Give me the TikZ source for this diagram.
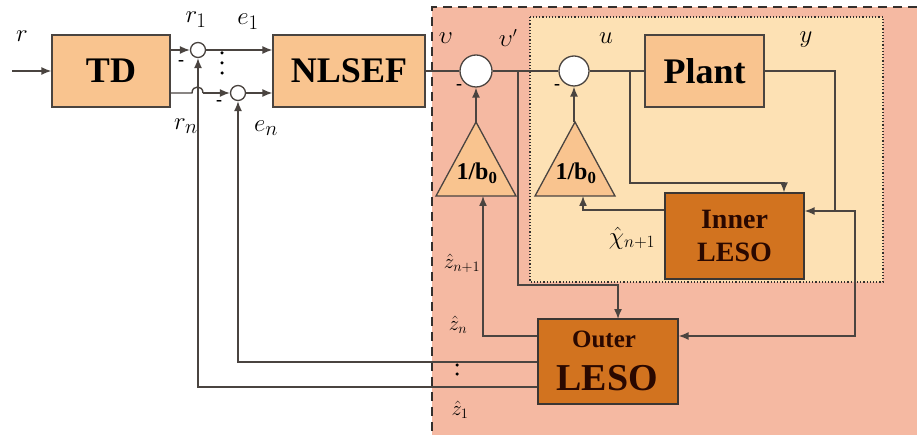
\documentclass[tikz,border=0pt]{standalone}
\usepackage{fontspec}
\setmainfont{Liberation Serif}
\usetikzlibrary{arrows.meta}
\definecolor{outerbg}{HTML}{F5B9A2}
\definecolor{innerbg}{HTML}{FDE1B4}
\definecolor{blk}{HTML}{F9C48F}
\definecolor{leso}{HTML}{D2731F}
\definecolor{ln}{HTML}{4A4440}
\definecolor{lesotxt}{HTML}{2A0800}
\begin{document}
\begin{tikzpicture}[x=1pt,y=-1pt,
  wire/.style={draw=ln,line width=1.4pt},
  arr/.style={wire,-{Latex[length=10pt,width=8pt]}},
  box/.style={draw=ln,line width=1.3pt,fill=blk,inner sep=0pt,font=\fontsize{36}{38}\selectfont\bfseries},
  lesobox/.style={draw=ln!80!black,line width=1.3pt,fill=leso,inner sep=0pt},
  lesotext/.style={inner sep=0pt,text=lesotxt,font=\bfseries},
  sumc/.style={circle,draw=ln,line width=1.3pt,fill=white,inner sep=0pt},
  tri/.style={draw=ln,line width=1.3pt,fill=blk},
  lbl/.style={inner sep=0pt,font=\fontsize{28}{30}\selectfont},
  slbl/.style={inner sep=0pt,font=\fontsize{22}{24}\selectfont},
  minus/.style={inner sep=0pt,font=\fontsize{18}{20}\selectfont\bfseries},
  gain/.style={inner sep=0pt,font=\fontsize{24}{26}\selectfont\bfseries},
  dotc/.style={circle,fill=black,inner sep=0pt,minimum size=3.5pt}
]
\useasboundingbox (0,0) rectangle (917,435);
% regions
\fill[outerbg] (432,7) rectangle (917,435);
\draw[ln!70!black,line width=1.5pt,dash pattern=on 9pt off 6pt] (917,7) -- (432,7) -- (432,435);
\fill[innerbg] (530,17) rectangle (883,282);
\draw[ln!70!black,line width=1.2pt,dotted] (530,17) rectangle (883,282);

% blocks
\node[box,minimum width=118pt,minimum height=72pt] (td) at (111,71) {TD};
\node[box,minimum width=152pt,minimum height=72pt] (nlsef) at (349,71) {NLSEF};
\node[box,minimum width=119pt,minimum height=72pt] (plant) at (704.5,71) {Plant};
\node[lesobox,minimum width=139pt,minimum height=86pt] (inner) at (734.5,236) {};
\node[lesotext,font=\fontsize{28}{30}\selectfont\bfseries] (innerA) at (734.5,219) {Inner};
\node[lesotext,font=\fontsize{28}{30}\selectfont\bfseries] (innerB) at (734.5,252) {LESO};
\node[lesobox,minimum width=140pt,minimum height=85pt] (outer) at (608,361.5) {};
\node[lesotext,font=\fontsize{25}{27}\selectfont\bfseries] (outerA) at (604,339) {Outer};
\node[lesotext,font=\fontsize{38}{40}\selectfont\bfseries] (outerB) at (607,378) {LESO};

% summing junctions
\node[sumc,minimum size=15pt] (s1) at (198,50) {};
\node[sumc,minimum size=15pt] (s2) at (238,93) {};
\node[sumc,minimum size=32pt] (s3) at (476,71) {};
\node[sumc,minimum size=30pt] (s4) at (574,71) {};

% gain triangles
\draw[tri] (436,196) -- (476,122) -- (516,196) -- cycle;
\draw[tri] (535,196) -- (575,122) -- (615,196) -- cycle;
\coordinate (t1a) at (476,122);
\coordinate (t2a) at (574,122);
\coordinate (t1b) at (483,196);
\coordinate (t2b) at (583,196);
\node[gain] (g1) at (477,173) {1/b$_{\mathbf 0}$};
\node[gain] (g2) at (576,173) {1/b$_{\mathbf 0}$};

% coordinates
\coordinate (rin) at (12,71);
\coordinate (hump1) at (192,93);
\coordinate (hump2) at (203,93);
\coordinate (vb) at (518,71);
\coordinate (vb2) at (518,285);
\coordinate (oin) at (618,285);
\coordinate (otop) at (618,319);
\coordinate (ub) at (630,71);
\coordinate (uc) at (784,183);
\coordinate (yc) at (835,71);
\coordinate (yj) at (835,211);
\coordinate (yr) at (855,211);
\coordinate (yr2) at (855,336);
\coordinate (ix) at (583,210);
\coordinate (o1) at (483,336);
\coordinate (o2) at (238,362);
\coordinate (o3) at (198,387);

% wires
\draw[arr] (rin) -- (td.west);
\draw[arr] (td.east |- s1) -- (s1.west);
\draw[wire] (td.east |- s2) -- (hump1) .. controls (192,85) and (203,85) .. (hump2);
\draw[arr] (hump2) -- (s2.west);
\draw[arr] (s1.east) -- (nlsef.west |- s1);
\draw[arr] (s2.east) -- (nlsef.west |- s2);
\draw[wire] (nlsef.east) -- (s3.west);
\draw[wire] (s3.east) -- (s4.west);
\draw[wire] (s4.east) -- (plant.west);
\draw[arr] (vb) -- (vb2) -- (oin) -- (otop);
\draw[arr] (ub) |- (uc) -- (uc |- inner.north);
\draw[wire] (plant.east) -- (yc) -- (yj);
\draw[arr] (yj) -- (inner.east |- yj);
\draw[arr] (yj) -- (yr) -- (yr2) -- (outer.east |- yr2);
\draw[arr] (inner.west |- ix) -- (ix) -- (t2b);
\draw[arr] (t1a) -- (s3.south);
\draw[arr] (t2a) -- (s4.south);
\draw[arr] (outer.west |- o1) -- (o1) -- (t1b);
\draw[arr] (outer.west |- o2) -- (o2) -- (s2.south);
\draw[arr] (outer.west |- o3) -- (o3) -- (s1.south);

% labels
\node[lbl] (lr) at (22,36) {$r$};
\node[lbl] (lr1) at (196,20) {$r_1$};
\node[lbl] (le1) at (248,22) {$e_1$};
\node[lbl] (lrn) at (186,126) {$r_n$};
\node[lbl] (len) at (266,128) {$e_n$};
\node[lbl] (lv) at (446,38) {$\upsilon$};
\node[lbl] (lvp) at (508,38) {$\upsilon^{\scriptscriptstyle\prime}$};
\node[lbl] (lu) at (606,38) {$u$};
\node[lbl] (ly) at (806,40) {$y$};
\node[lbl,font=\fontsize{24}{26}\selectfont] (lchi) at (632,238) {$\hat{\chi}_{n+1}$};
\node[slbl] (lz1) at (462,263) {$\hat{z}_{n+1}$};
\node[slbl] (lzn) at (458,325) {$\hat{z}_n$};
\node[slbl] (lzz) at (460,410) {$\hat{z}_1$};
\node[minus] (m1) at (181,63) {-};
\node[minus] (m2) at (219,103) {-};
\node[minus] (m3) at (459,87) {-};
\node[minus] (m4) at (557,87) {-};
\node[dotc] at (222,53) {};
\node[dotc] at (222,63) {};
\node[dotc] at (222,73) {};
\node[dotc] at (457,365) {};
\node[dotc] at (457,374) {};
\end{tikzpicture}
\end{document}
